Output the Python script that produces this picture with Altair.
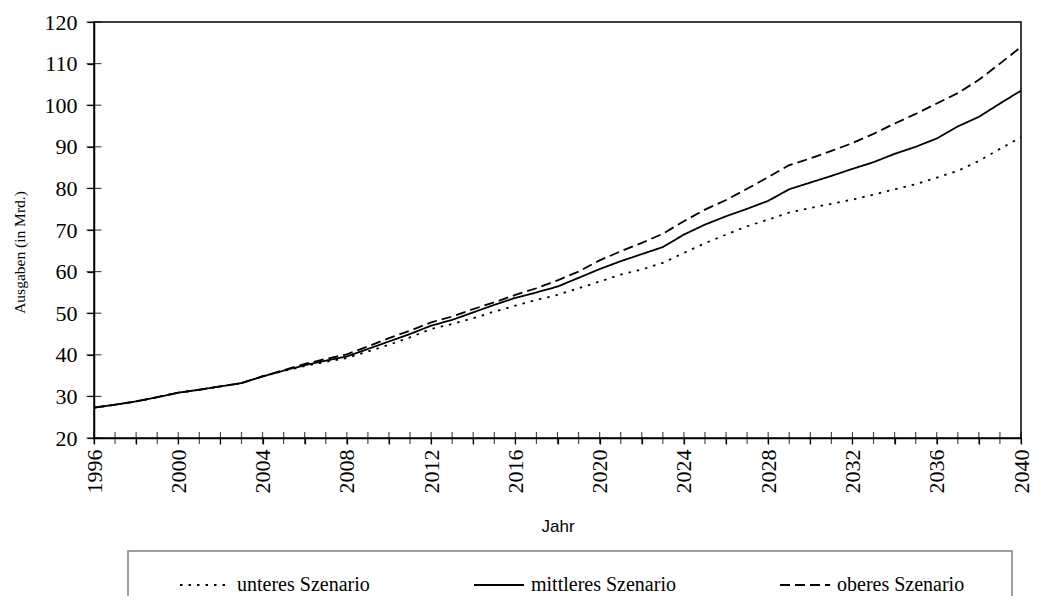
import altair as alt
import pandas as pd

years = list(range(1996, 2041))

unteres = [27.3, 28.0, 28.8, 29.8, 30.9, 31.6, 32.4, 33.2, 34.8,
           36.1, 37.3, 38.3, 39.2, 40.8, 42.4, 44.2, 46.2, 47.4, 48.8,
           50.4, 51.8, 53.2, 54.4, 56.0, 57.6, 59.3, 60.5, 62.1, 64.5,
           66.8, 68.9, 70.9, 72.5, 74.2, 75.3, 76.3, 77.3, 78.5, 79.8,
           81.0, 82.6, 84.2, 86.6, 89.5, 92.3]
mittleres = [27.3, 28.0, 28.8, 29.8, 30.9, 31.6, 32.4, 33.2, 34.8,
             36.2, 37.5, 38.6, 39.6, 41.4, 43.2, 45.0, 47.0, 48.4, 50.2,
             52.0, 53.7, 55.0, 56.4, 58.5, 60.6, 62.5, 64.2, 65.9, 68.9,
             71.3, 73.3, 75.1, 77.0, 79.8, 81.4, 83.0, 84.7, 86.3, 88.3,
             90.0, 92.0, 94.9, 97.2, 100.4, 103.5]
oberes = [27.3, 28.0, 28.8, 29.8, 30.9, 31.6, 32.4, 33.2, 34.8,
          36.3, 37.8, 39.0, 40.1, 42.0, 44.0, 45.8, 47.8, 49.2, 51.0,
          52.6, 54.4, 56.0, 57.9, 60.0, 62.7, 64.9, 66.9, 69.1, 72.1,
          74.9, 77.2, 79.9, 82.7, 85.6, 87.2, 89.0, 90.9, 93.1, 95.6,
          97.9, 100.4, 102.9, 106.1, 110.0, 114.0]

series_names = ["unteres Szenario", "mittleres Szenario", "oberes Szenario"]
y_ticks = [20, 30, 40, 50, 60, 70, 80, 90, 100, 110, 120]

rows = []
for name, vals in zip(series_names, [unteres, mittleres, oberes]):
    for yr, v in zip(years, vals):
        rows.append({"Jahr": yr, "Ausgaben": v, "Szenario": name})
df = pd.DataFrame(rows)

x_scale = alt.Scale(domain=[1996, 2040], nice=False, zero=False)
y_scale = alt.Scale(domain=[20, 120], nice=False, zero=False)

lines = alt.Chart(df).mark_line(color="black", strokeWidth=1.8).encode(
    x=alt.X("Jahr:Q", scale=x_scale,
            axis=alt.Axis(values=years, format="d",
                          labelExpr="datum.value % 4 == 0 ? datum.label : ''",
                          labelAngle=270, labelAlign="right", labelBaseline="middle",
                          labelFont="Liberation Serif", labelFontSize=22,
                          labelPadding=5, labelOverlap=False, labelFlush=False,
                          tickSize=6, tickWidth=1.2, domainWidth=1.5,
                          title="Jahr", titleFont="Liberation Sans",
                          titleFontSize=17, titleFontWeight="normal",
                          titlePadding=25)),
    y=alt.Y("Ausgaben:Q", scale=y_scale,
            axis=alt.Axis(values=y_ticks, labelFont="Liberation Serif",
                          labelFontSize=22, labelPadding=10, tickSize=7,
                          tickWidth=1.2, domainWidth=1.5,
                          title="Ausgaben (in Mrd.)", titleFont="Liberation Serif",
                          titleFontSize=15.5, titleFontWeight="normal",
                          titlePadding=17, titleY=230)),
    strokeDash=alt.StrokeDash(
        "Szenario:N",
        scale=alt.Scale(domain=series_names,
                        range=[[2.5, 6], [1, 0], [10, 5]]),
        legend=alt.Legend(orient="none", legendX=34, legendY=529,
                          direction="horizontal", columns=3,
                          title="\u00a0", titleOrient="right", titlePadding=40,
                          titleFontSize=20,
                          symbolType="stroke", symbolSize=2500,
                          symbolStrokeWidth=1.8, symbolStrokeColor="black",
                          symbolOffset=43, labelOffset=6,
                          labelFont="Liberation Serif", labelFontSize=20,
                          labelColor="black", labelLimit=400,
                          columnPadding=60, padding=8, gridAlign="each",
                          strokeColor="#808080")),
)

xt = alt.Chart(pd.DataFrame({"Jahr": years})).mark_tick(
    orient="vertical", color="black", thickness=1.2, size=12
).encode(x=alt.X("Jahr:Q", scale=x_scale), y=alt.datum(20))

yt = alt.Chart(pd.DataFrame({"Ausgaben": y_ticks})).mark_tick(
    orient="horizontal", color="black", thickness=1.2, size=15
).encode(x=alt.datum(1996), y=alt.Y("Ausgaben:Q", scale=y_scale))

chart = alt.layer(lines, xt, yt).properties(
    width=927, height=416,
    autosize=alt.AutoSizeParams(type="none"),
    padding={"left": 86, "top": 14, "right": 12, "bottom": 158},
).configure_view(
    stroke="black", strokeWidth=1.5
).configure_axis(
    grid=False, domainColor="black", tickColor="black",
    labelColor="black", titleColor="black"
).configure_legend(
    strokeWidth=1.5
)

chart.save("out.html", embed_options={"renderer": "svg", "actions": False})
